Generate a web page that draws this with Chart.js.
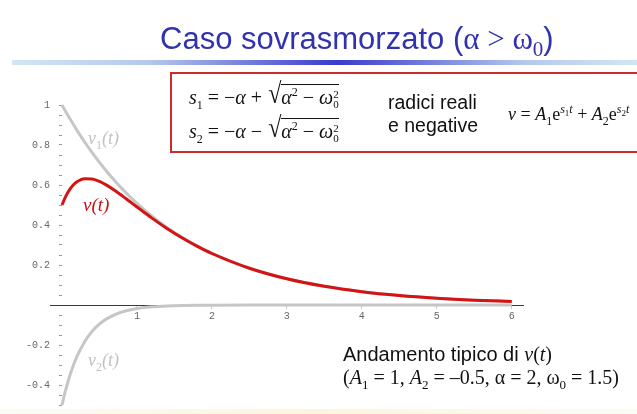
<!DOCTYPE html>
<html>
<head>
<meta charset="utf-8">
<script src="https://cdn.jsdelivr.net/npm/chart.js@4/dist/chart.umd.min.js"></script>
<style>
  html, body { margin: 0; padding: 0; background: #fff; }
  #wrap { position: relative; width: 637px; height: 414px; overflow: hidden; background: #fff; }
  #plot { position: absolute; left: 0; top: 0; }
  .abs { position: absolute; white-space: nowrap; }
  .sans { font-family: "Liberation Sans", Arial, sans-serif; }
  .tm { font-family: "Liberation Serif", "Times New Roman", serif; }
  #title { left: 160px; top: 21px; font-size: 31px; color: #3232b0; line-height: 36px; }
  #rule { left: 12px; top: 60px; width: 625px; height: 5px;
          background: linear-gradient(to right, #d4e6f4 0%, #b4c8ec 22%, #3a3acc 52%, #b4c8ec 82%, #d4e6f4 100%); }
  #box { left: 170px; top: 72px; width: 480px; height: 81px; border: 2px solid #cc2c2c; box-sizing: border-box; }
  .f { font-size: 20px; line-height: 22px; color: #111; }
  .f sub, .f sup { font-size: 12px; line-height: 0; }
  .rad { display: inline-block; font-size: 24px; transform: scaleY(1.2); transform-origin: bottom; margin-left: 1px; }
  .ov { border-top: 1px solid #111; padding-top: 1px; }
  .ss { display: inline-block; vertical-align: -4px; font-size: 11px; line-height: 10px; font-style: normal; }
  .ss span { display: block; }
  .lbl { font-family: "Liberation Serif", "Times New Roman", serif; font-style: italic; }
  .lbl sub { font-style: normal; font-size: 12px; }
  #band { left: 0; top: 409px; width: 637px; height: 5px;
          background: linear-gradient(to right, #fbfbf4, #fcf6dc 50%, #fbfbf4); }
</style>
</head>
<body>
<div id="wrap">
  <canvas id="plot" width="637" height="430"></canvas>

  <div id="title" class="abs sans">Caso sovrasmorzato (<span class="tm">α &gt; ω<sub style="font-size:21px">0</sub></span>)</div>
  <div id="rule" class="abs"></div>

  <div id="box" class="abs"></div>
  <div class="abs tm f" style="left:189px;top:85px;">
    <i>s</i><sub>1</sub> = −<i>α</i> + <span class="rad">√</span><span class="ov"><i>α</i><sup>2</sup> − <i>ω</i><span class="ss"><span>2</span><span>0</span></span></span>
  </div>
  <div class="abs tm f" style="left:189px;top:119px;">
    <i>s</i><sub>2</sub> = −<i>α</i> − <span class="rad">√</span><span class="ov"><i>α</i><sup>2</sup> − <i>ω</i><span class="ss"><span>2</span><span>0</span></span></span>
  </div>
  <div class="abs sans" style="left:388px;top:91px;font-size:19.5px;line-height:23px;color:#111;">radici reali<br>e negative</div>
  <div class="abs tm f" style="left:508px;top:103px;font-size:18px;">
    <i>v</i> = <i>A</i><sub>1</sub>e<sup><i>s</i><sub style="font-size:9px">1</sub><i>t</i></sup> + <i>A</i><sub>2</sub>e<sup><i>s</i><sub style="font-size:9px">2</sub><i>t</i></sup>
  </div>

  <div class="abs lbl" style="left:88px;top:128px;font-size:18px;color:#c2c2c2;"><i>v</i><sub>1</sub>(<i>t</i>)</div>
  <div class="abs lbl" style="left:83px;top:194px;font-size:19px;color:#cc1010;"><i>v</i>(<i>t</i>)</div>
  <div class="abs lbl" style="left:88px;top:350px;font-size:18px;color:#c2c2c2;"><i>v</i><sub>2</sub>(<i>t</i>)</div>

  <div class="abs sans" style="left:343px;top:343px;font-size:20px;color:#111;">Andamento tipico di <span class="tm"><i>v</i>(<i>t</i>)</span></div>
  <div class="abs tm" style="left:343px;top:366px;font-size:20px;color:#111;">(<i>A</i><sub style="font-size:13px">1</sub> = 1, <i>A</i><sub style="font-size:13px">2</sub> = –0.5, α = 2, ω<sub style="font-size:13px">0</sub> = 1.5)</div>

  <div id="band" class="abs"></div>
</div>

<script>
// Time samples (s) and the three responses of the overdamped circuit
const tValues  = [0, 0.05, 0.1, 0.15, 0.2, 0.3, 0.4, 0.5, 0.6, 0.7, 0.8, 0.9, 1.0,
                  1.2, 1.4, 1.6, 1.8, 2.0, 2.5, 3.0, 3.5, 4.0, 4.5, 5.0, 5.5, 6.0];
const v1Values = [1, 0.9667, 0.9345, 0.9034, 0.8733, 0.8162, 0.7627, 0.7128, 0.6661, 0.6225, 0.5818, 0.5437, 0.5081,
                  0.4437, 0.3875, 0.3384, 0.2956, 0.2582, 0.1840, 0.1312, 0.0935, 0.0666, 0.0475, 0.0339, 0.0241, 0.0172];
const v2Values = [-0.5, -0.4235, -0.3587, -0.3037, -0.2573, -0.1845, -0.1324, -0.0950, -0.0681, -0.0489, -0.0350, -0.0251, -0.0180,
                  -0.0093, -0.0048, -0.0025, -0.0013, -0.0007, -0.0001, 0, 0, 0, 0, 0, 0, 0];
const vValues  = [0.5, 0.5432, 0.5759, 0.5997, 0.6161, 0.6316, 0.6304, 0.6178, 0.5980, 0.5737, 0.5467, 0.5185, 0.4901,
                  0.4345, 0.3828, 0.3360, 0.2943, 0.2575, 0.1839, 0.1311, 0.0935, 0.0666, 0.0475, 0.0339, 0.0241, 0.0172];

// Axis ticks
const xTickValues = [1, 2, 3, 4, 5, 6];
const yLabelValues = [-0.4, -0.2, 0.2, 0.4, 0.6, 0.8, 1];
const yMinorStep = 0.05;

const toPoints = ys => tValues.map((t, i) => ({ x: t, y: ys[i] }));

const curve = (data, color, order) => ({
  data: toPoints(data),
  borderColor: color,
  borderWidth: 3,
  pointRadius: 0,
  cubicInterpolationMode: 'monotone',
  fill: false,
  order: order
});

const tickFont = { family: '"Liberation Mono", "DejaVu Sans Mono", monospace', size: 10 };

new Chart(document.getElementById('plot'), {
  type: 'line',
  data: {
    datasets: [
      curve(vValues, '#d41414', 0),
      curve(v1Values, '#c6c6c6', 1),
      curve(v2Values, '#c6c6c6', 1)
    ]
  },
  options: {
    responsive: false,
    animation: false,
    events: [],
    // the canvas runs a little past the page bottom so the plot area can reach it
    layout: { padding: { left: 50, right: 114, top: 101, bottom: 21 } },
    plugins: { legend: { display: false }, tooltip: { enabled: false } },
    scales: {
      x: {
        type: 'linear',
        min: -0.16,
        max: 6.15,
        position: { y: 0 },
        afterBuildTicks: s => { s.ticks = xTickValues.map(v => ({ value: v })); },
        border: { display: true, color: '#3a3a3a', width: 1 },
        grid: { drawOnChartArea: false, drawTicks: true, tickLength: 3, color: '#c8c8c8' },
        ticks: { autoSkip: false, maxRotation: 0, padding: 2, color: '#666', font: tickFont,
                 callback: v => String(v) }
      },
      y: {
        type: 'linear',
        min: -0.52,
        max: 1.02,
        position: { x: 0 },
        afterBuildTicks: s => {
          const ticks = [];
          for (let k = -10; k <= 20; k++) ticks.push({ value: +(k * yMinorStep).toFixed(2) });
          s.ticks = ticks;
        },
        border: { display: false },
        grid: { drawOnChartArea: false, drawTicks: true, tickLength: 3, color: '#9a9a9a' },
        ticks: {
          autoSkip: false, color: '#666', font: tickFont,
          // trailing spaces keep the labels clear of the axis ticks
          callback: v => yLabelValues.some(m => Math.abs(m - v) < 1e-6) ? String(v) + '  ' : ''
        }
      }
    }
  }
});
</script>
</body>
</html>
